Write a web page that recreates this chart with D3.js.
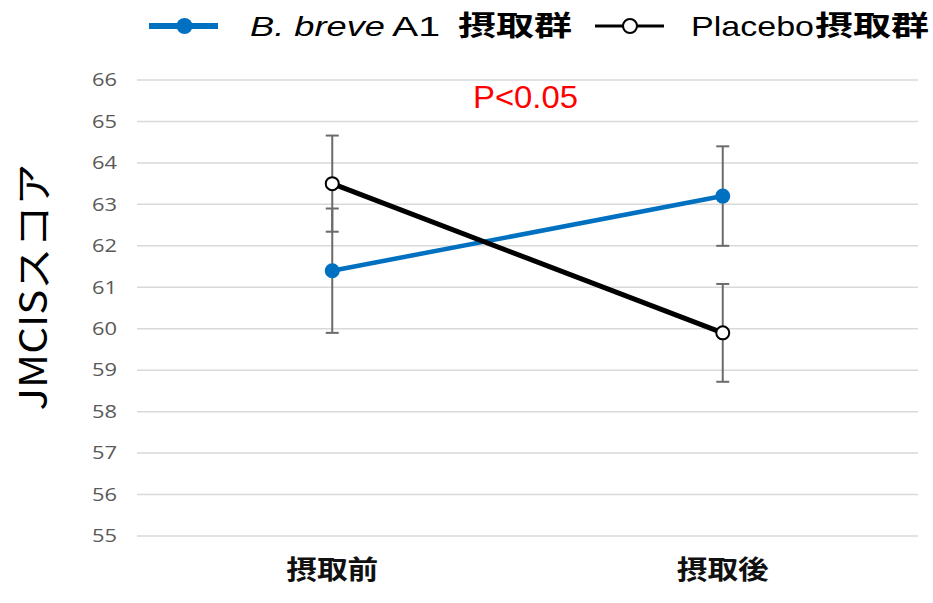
<!DOCTYPE html>
<html>
<head>
<meta charset="utf-8">
<script src="https://cdn.jsdelivr.net/npm/d3@7"></script>
<style>
  body { margin: 0; background: #fff; }
  text { font-family: "Noto Sans CJK JP", "Liberation Sans", sans-serif; }
</style>
</head>
<body>
<div id="canvas"></div>
<script>
// data
var timepoints = ['摂取前', '摂取後'];
var breveMean = [61.4, 63.2];
var breveErr = [1.5, 1.2];
var placeboMean = [63.5, 59.9];
var placeboErr = [1.16, 1.18];
var yTicks = [55, 56, 57, 58, 59, 60, 61, 62, 63, 64, 65, 66];

var W = 933, H = 603;
var m = {t:80, r:15, b:67, l:137};
var w = W - m.l - m.r, h = H - m.t - m.b;

var svg = d3.select('#canvas').append('svg')
    .attr('width', W).attr('height', H);
var plot = svg.append('g')
    .attr('transform', 'translate(' + m.l + ',' + m.t + ')');

var x = d3.scaleBand().domain(timepoints).range([0, w]);
var y = d3.scaleLinear().domain([55, 66]).range([h, 0]);

// gridlines
plot.selectAll('.grid').data(yTicks).enter().append('line')
    .attr('x1', 0).attr('x2', w)
    .attr('y1', function(d){ return y(d); })
    .attr('y2', function(d){ return y(d); })
    .attr('stroke', '#d9d9d9').attr('stroke-width', 1.5);

// y axis labels
var axisY = d3.axisLeft(y).tickValues(yTicks).tickSize(0).tickPadding(20);
var gy = plot.append('g').call(axisY);
gy.select('.domain').remove();
gy.selectAll('text').attr('fill', '#595959')
    .attr('textLength', 25).attr('lengthAdjust', 'spacingAndGlyphs')
    .style('font-family', '"Open Sans", "Noto Sans", sans-serif').style('font-size', '18px');

// x axis labels
var axisX = d3.axisBottom(x).tickSize(0).tickPadding(25);
var gx = plot.append('g').attr('transform', 'translate(0,' + h + ')').call(axisX);
gx.select('.domain').remove();
gx.selectAll('text').attr('fill', '#111')
    .attr('textLength', 92).attr('lengthAdjust', 'spacingAndGlyphs')
    .style('font-size', '26px').style('font-weight', 'bold');

var cx = function(d, i){ return x(timepoints[i]) + x.bandwidth() / 2; };

function drawErrors(means, errs){
  var g = plot.append('g').attr('stroke', '#6b6b6b').attr('stroke-width', 2);
  means.forEach(function(v, i){
    var px = cx(null, i), top = y(v + errs[i]), bot = y(v - errs[i]);
    g.append('line').attr('x1', px).attr('x2', px).attr('y1', top).attr('y2', bot);
    g.append('line').attr('x1', px - 6.5).attr('x2', px + 6.5).attr('y1', top).attr('y2', top);
    g.append('line').attr('x1', px - 6.5).attr('x2', px + 6.5).attr('y1', bot).attr('y2', bot);
  });
}
drawErrors(breveMean, breveErr);
drawErrors(placeboMean, placeboErr);

var line = d3.line().x(cx).y(function(d){ return y(d); });

// blue series
plot.append('path').datum(breveMean).attr('d', line)
    .attr('fill', 'none').attr('stroke', '#0070c0').attr('stroke-width', 4.5);
plot.selectAll('.bdot').data(breveMean).enter().append('circle')
    .attr('cx', cx).attr('cy', function(d){ return y(d); })
    .attr('r', 7.5).attr('fill', '#0070c0');

// black series
plot.append('path').datum(placeboMean).attr('d', line)
    .attr('fill', 'none').attr('stroke', '#000').attr('stroke-width', 5);
plot.selectAll('.pdot').data(placeboMean).enter().append('circle')
    .attr('cx', cx).attr('cy', function(d){ return y(d); })
    .attr('r', 6.5).attr('fill', '#fff').attr('stroke', '#000').attr('stroke-width', 2);

// significance
svg.append('text').attr('x', 473).attr('y', 108)
    .attr('fill', '#ff0000').style('font-size', '32px')
    .attr('textLength', 105).attr('lengthAdjust', 'spacingAndGlyphs')
    .style('font-family', '"Liberation Sans", Arial, sans-serif')
    .text('P<0.05');

// y title
svg.append('text').attr('transform', 'translate(47,287) rotate(-90)')
    .attr('text-anchor', 'middle').attr('fill', '#000')
    .attr('textLength', 247).attr('lengthAdjust', 'spacingAndGlyphs')
    .style('font-size', '38px')
    .text('JMCISスコア');

// legend
var lg = svg.append('g');
lg.append('line').attr('x1', 149).attr('x2', 218).attr('y1', 26).attr('y2', 26)
    .attr('stroke', '#0070c0').attr('stroke-width', 6);
lg.append('circle').attr('cx', 184.5).attr('cy', 26).attr('r', 8).attr('fill', '#0070c0');
lg.append('text').attr('x', 250).attr('y', 36).attr('fill', '#000')
    .attr('textLength', 135).attr('lengthAdjust', 'spacingAndGlyphs')
    .style('font-size', '28px').style('font-style', 'italic')
    .style('font-family', '"Liberation Sans", Arial, sans-serif')
    .text('B. breve');
lg.append('text').attr('x', 392).attr('y', 36).attr('fill', '#000')
    .attr('textLength', 48).attr('lengthAdjust', 'spacingAndGlyphs')
    .style('font-size', '28px')
    .style('font-family', '"Liberation Sans", Arial, sans-serif')
    .text('A1');
lg.append('text').attr('x', 458).attr('y', 36).attr('fill', '#000')
    .attr('textLength', 114).attr('lengthAdjust', 'spacingAndGlyphs')
    .style('font-size', '28px').style('font-weight', 'bold')
    .text('摂取群');

lg.append('line').attr('x1', 595).attr('x2', 664).attr('y1', 26).attr('y2', 26)
    .attr('stroke', '#000').attr('stroke-width', 3);
lg.append('circle').attr('cx', 630).attr('cy', 26).attr('r', 7)
    .attr('fill', '#fff').attr('stroke', '#000').attr('stroke-width', 2);
lg.append('text').attr('x', 691).attr('y', 36).attr('fill', '#000')
    .attr('textLength', 123).attr('lengthAdjust', 'spacingAndGlyphs')
    .style('font-size', '28px')
    .style('font-family', '"Liberation Sans", Arial, sans-serif')
    .text('Placebo');
lg.append('text').attr('x', 815).attr('y', 36).attr('fill', '#000')
    .attr('textLength', 114).attr('lengthAdjust', 'spacingAndGlyphs')
    .style('font-size', '28px').style('font-weight', 'bold')
    .text('摂取群');
</script>
</body>
</html>
